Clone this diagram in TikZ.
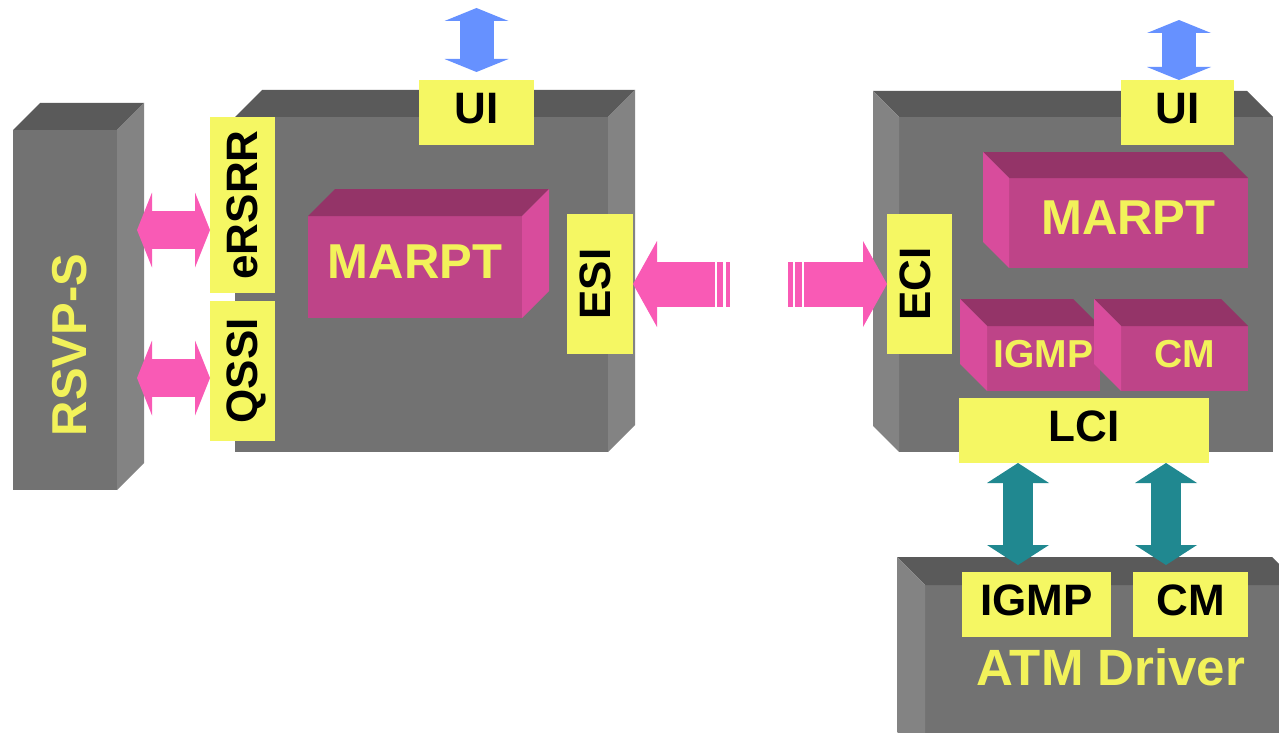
\documentclass[tikz,border=0pt]{standalone}
\usepackage{fontspec}
\setmainfont{Liberation Sans}
\usetikzlibrary{calc,arrows.meta}

\definecolor{slabfront}{HTML}{727272}
\definecolor{slabtop}{HTML}{5A5A5A}
\definecolor{slabside}{HTML}{838383}
\definecolor{modfront}{HTML}{BE4488}
\definecolor{modtop}{HTML}{943468}
\definecolor{modside}{HTML}{D84C9C}
\definecolor{ifyellow}{HTML}{F5F763}
\definecolor{txtyellow}{HTML}{F2F25A}
\definecolor{flowpink}{HTML}{F95AB5}
\definecolor{userblue}{HTML}{6691FF}
\definecolor{drvteal}{HTML}{208890}

\newcommand{\modfont}{\fontsize{49}{52}\selectfont\bfseries}
\newcommand{\labfont}{\fontsize{44}{48}\selectfont\bfseries}
\newcommand{\minifont}{\fontsize{39}{42}\selectfont\bfseries}

% back faces of a box: #1 node, #2 depth, #3 top colour, #4 side colour
\newcommand{\depthright}[4]{%
  \fill[#3] (#1.north west) -- ++(#2,-#2) -- ($(#1.north east)+(#2,-#2)$) -- (#1.north east) -- cycle;
  \fill[#4] (#1.north east) -- ++(#2,-#2) -- ($(#1.south east)+(#2,-#2)$) -- (#1.south east) -- cycle;}
\newcommand{\depthleft}[4]{%
  \fill[#3] (#1.north east) -- ++(-#2,-#2) -- ($(#1.north west)+(-#2,-#2)$) -- (#1.north west) -- cycle;
  \fill[#4] (#1.north west) -- ++(-#2,-#2) -- ($(#1.south west)+(-#2,-#2)$) -- (#1.south west) -- cycle;}

\tikzset{
  slab/.style={fill=slabfront, inner sep=0pt, outer sep=0pt},
  slabtext/.style={font=\modfont, text=txtyellow, inner sep=0pt},
  module/.style={fill=modfront, inner sep=0pt, outer sep=0pt, font=\modfont, text=txtyellow, text depth=10pt},
  iface/.style={fill=ifyellow, inner sep=0pt, outer sep=0pt, font=\labfont, text depth=9pt},
  pinkflow/.style={draw=flowpink, line width=38pt,
    {Triangle[width=75pt,length=15pt,line width=0pt]}-{Triangle[width=75pt,length=15pt,line width=0pt]}},
  pinkwide/.style={draw=flowpink, line width=45pt, -{Triangle[width=86pt,length=24pt,line width=0pt]}},
  userflow/.style={draw=userblue, line width=34pt,
    {Triangle[width=64pt,length=13pt,line width=0pt]}-{Triangle[width=64pt,length=13pt,line width=0pt]}},
  tealflow/.style={draw=drvteal, line width=30pt,
    {Triangle[width=62pt,length=20pt,line width=0pt]}-{Triangle[width=62pt,length=20pt,line width=0pt]}},
}

\begin{document}
\begin{tikzpicture}[x=1pt, y=-1pt]
  \useasboundingbox (0,0) rectangle (1279,733);
  \clip (0,0) rectangle (1279,733);

  % RSVP-S
  \node[slab, minimum width=104pt, minimum height=360pt] (rsvp) at (65,310) {};
  \depthright{rsvp}{27}{slabtop}{slabside}
  \node[slabtext, rotate=90] (rsvptxt) at (70,345) {RSVP-S};

  % left host
  \node[slab, minimum width=373pt, minimum height=335pt] (lhost) at (421.5,284.5) {};
  \depthright{lhost}{27}{slabtop}{slabside}
  \node[module, minimum width=214pt, minimum height=102pt] (lmarpt) at (415,267) {MARPT};
  \depthright{lmarpt}{27}{modtop}{modside}
  \node[iface, minimum width=115pt, minimum height=65pt] (luiface) at (476.5,112.5) {UI};
  % rotated labels: north is the left side, south the right side
  \node[iface, rotate=90, text depth=0pt, minimum width=176pt, minimum height=65pt] (ersrr) at (242.5,205) {eRSRR};
  \node[iface, rotate=90, text depth=0pt, minimum width=140pt, minimum height=65pt] (qssi) at (242.5,371) {QSSI};
  \node[iface, rotate=90, minimum width=140pt, minimum height=66pt] (esi) at (600,284) {ESI};

  % right host
  \node[slab, minimum width=374pt, minimum height=335pt] (rhost) at (1086,284.5) {};
  \depthleft{rhost}{26}{slabtop}{slabside}
  \node[module, minimum width=239pt, minimum height=90pt] (rmarpt) at (1128.5,223) {MARPT};
  \depthleft{rmarpt}{26}{modtop}{modside}
  \node[module, font=\minifont, minimum width=113pt, minimum height=65pt] (rigmp) at (1043.5,358.5) {IGMP};
  \depthleft{rigmp}{27}{modtop}{modside}
  \node[module, font=\minifont, minimum width=127pt, minimum height=65pt] (rcm) at (1184.5,358.5) {CM};
  \depthleft{rcm}{27}{modtop}{modside}
  \node[iface, minimum width=113pt, minimum height=65pt] (ruiface) at (1177.5,112.5) {UI};
  \node[iface, rotate=90, minimum width=140pt, minimum height=65pt] (eci) at (919.5,284) {ECI};
  \node[iface, minimum width=250pt, minimum height=65pt] (lci) at (1084,430.5) {LCI};

  % ATM driver
  \node[slab, minimum width=375pt, minimum height=175pt] (drv) at (1112.5,672.5) {};
  \depthleft{drv}{28}{slabtop}{slabside}
  \node[slabtext, font=\fontsize{51}{54}\selectfont\bfseries] (drvtxt) at (1111,667) {ATM Driver};
  \node[iface, minimum width=149pt, minimum height=65pt] (digmp) at (1036.5,604.5) {IGMP};
  \node[iface, minimum width=115pt, minimum height=65pt] (dcm) at (1190.5,604.5) {CM};

  % arrows
  \coordinate (rsvpA) at (137,230);
  \coordinate (rsvpB) at (137,378);
  \draw[pinkflow] (rsvpA) -- (rsvpA -| ersrr.north);
  \draw[pinkflow] (rsvpB) -- (rsvpB -| qssi.north);

  \coordinate (esitail) at (715,284);
  \coordinate (ecitail) at (804,284);
  \draw[pinkwide] (esitail) -- (esi.south);
  \draw[pinkwide] (ecitail) -- (eci.north);
  \foreach \a/\b in {717/723, 726/730, 788/793, 795/802}
    \fill[flowpink] (\a,261.5) rectangle (\b,306.5);

  \coordinate (luser) at (476.5,8);
  \coordinate (ruser) at (1179,20);
  \draw[userflow] (luser) -- ($(luiface.north)+(0,-8)$);
  \draw[userflow] (ruser) -- (ruser |- ruiface.north);

  \coordinate (tigmp) at (1018,565);
  \coordinate (tcm) at (1166,565);
  \draw[tealflow] (tigmp |- lci.south) -- (tigmp);
  \draw[tealflow] (tcm |- lci.south) -- (tcm);
\end{tikzpicture}
\end{document}
